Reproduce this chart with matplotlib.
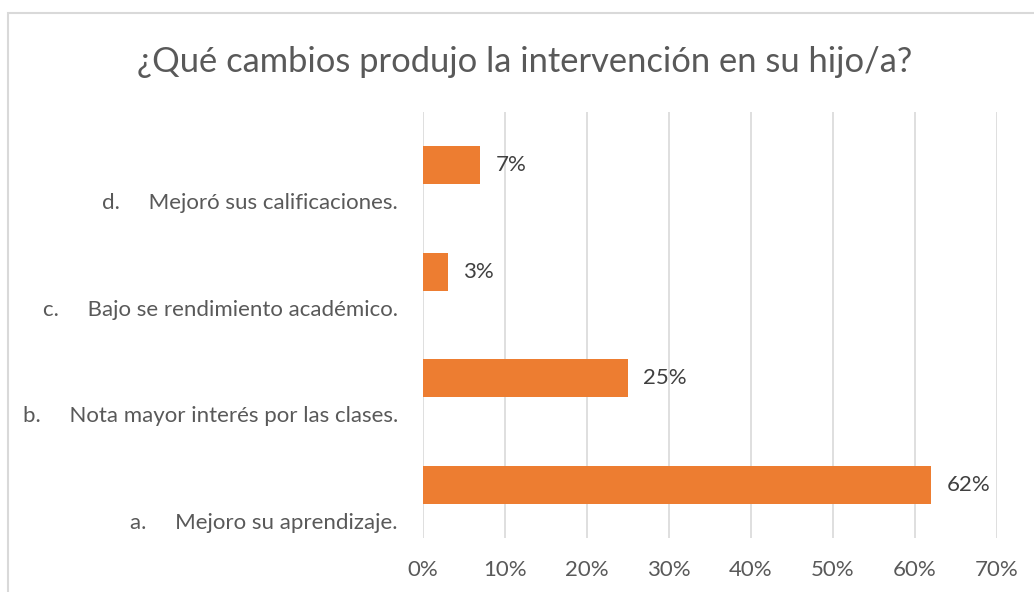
import matplotlib.pyplot as plt
from matplotlib.patches import Rectangle
from matplotlib.ticker import PercentFormatter

# data
categories = ['a.     Mejoro su aprendizaje.',
              'b.     Nota mayor interés por las clases.',
              'c.     Bajo se rendimiento académico.',
              'd.     Mejoró sus calificaciones.']
values = [0.62, 0.25, 0.03, 0.07]
value_labels = ['62%', '25%', '3%', '7%']
x_ticks = [0, 0.1, 0.2, 0.3, 0.4, 0.5, 0.6, 0.7]

orange = '#ED7D31'
text_gray = '#595959'
grid_gray = '#D9D9D9'

plt.rcParams['font.family'] = ['Lato', 'DejaVu Sans']

fig = plt.figure(figsize=(10.34, 5.92), dpi=100)
ax = fig.add_axes([423 / 1034, 1 - 538 / 592, 574 / 1034, 426 / 592])

pos = list(range(len(values)))
bars = ax.barh(pos, values, height=0.355, color=orange, zorder=3)

# data labels
for b, lab in zip(bars, value_labels):
    ax.annotate(lab, (b.get_width(), b.get_y() + b.get_height() / 2),
                xytext=(11, 0), textcoords='offset points',
                va='center', ha='left', fontsize=16, color='#404040')

ax.set_xlim(0, 0.7)
ax.set_ylim(-0.5, 3.5)
ax.set_xticks(x_ticks)
ax.xaxis.set_major_formatter(PercentFormatter(1.0, decimals=0))
ax.set_yticks([p - 0.34 for p in pos])
ax.set_yticklabels(categories)
ax.tick_params(axis='y', length=0, pad=18, labelsize=16, labelcolor=text_gray)
ax.tick_params(axis='x', length=0, pad=16, labelsize=16, labelcolor=text_gray)
ax.grid(axis='x', color=grid_gray, linewidth=1.2, zorder=0)
for s in ax.spines.values():
    s.set_visible(False)

fig.suptitle('¿Qué cambios produjo la intervención en su hijo/a?',
             x=525 / 1034, y=1 - 62 / 592, va='center',
             fontsize=24.8, color=text_gray)

# chart frame, cut off at right and bottom
fig.patches.append(Rectangle((8 / 1034, -0.1), 1.2, 1 - 13 / 592 + 0.1,
                             transform=fig.transFigure, fill=False,
                             edgecolor=grid_gray, linewidth=1.5))

fig.savefig('out.png', dpi=100)
